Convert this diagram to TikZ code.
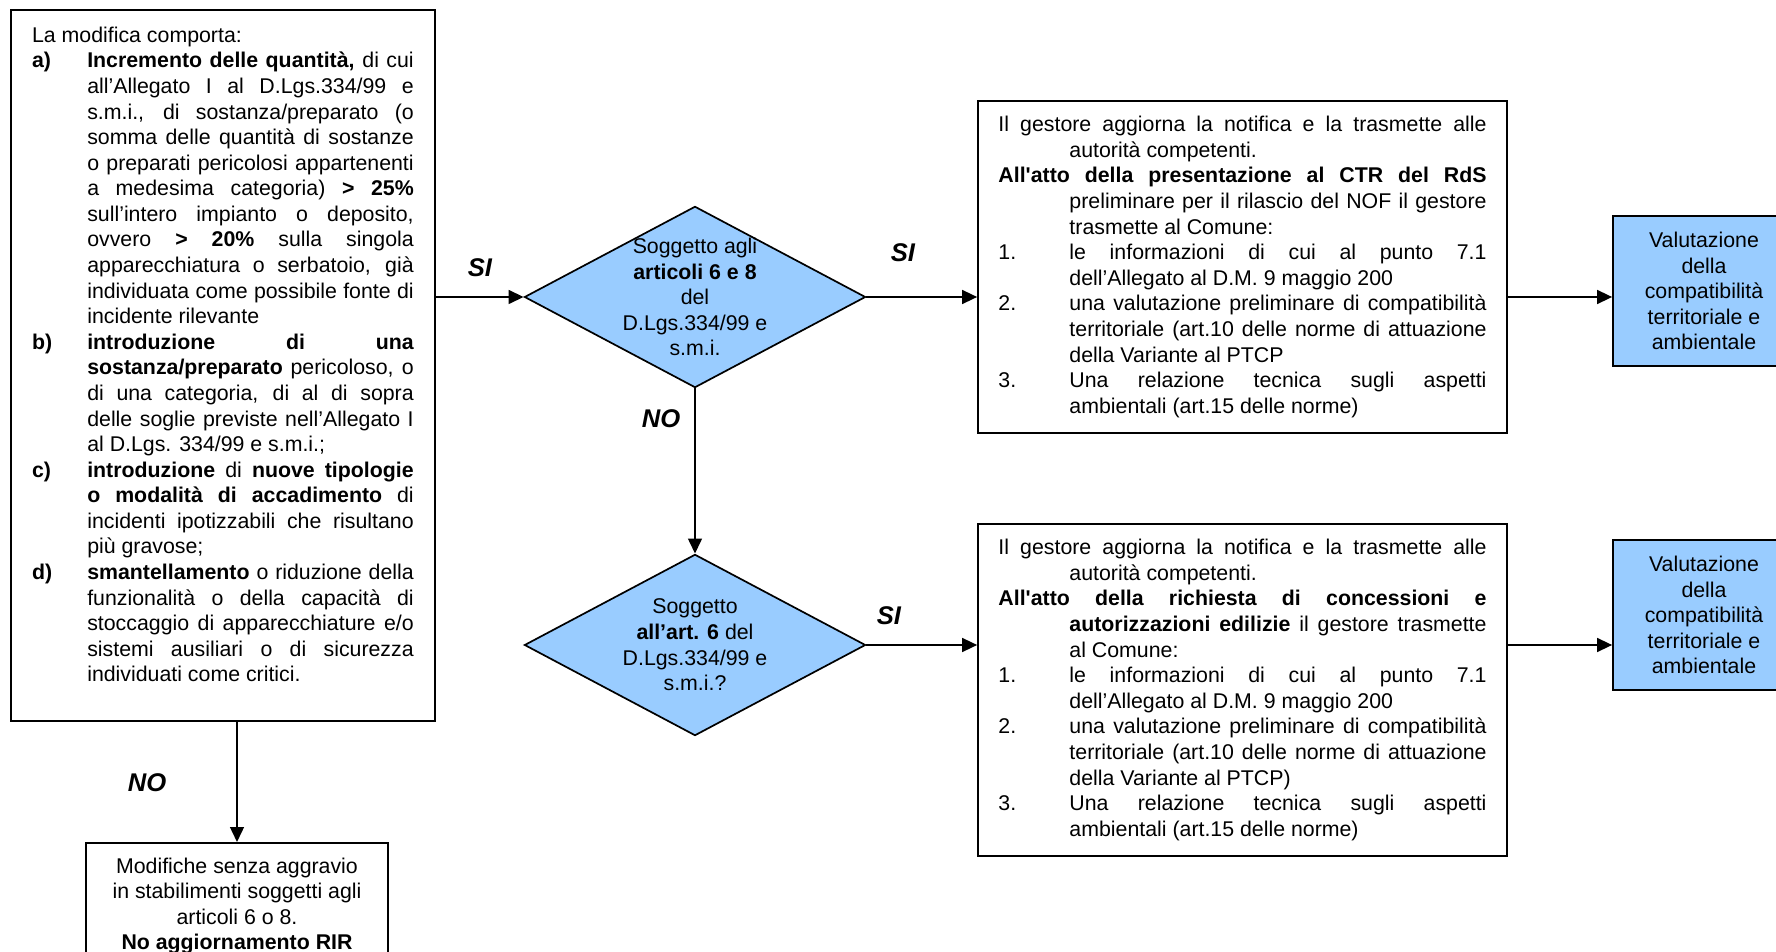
\documentclass[tikz,border=0pt]{standalone}
\usepackage{fontspec}
\setmainfont{Liberation Sans}
\usetikzlibrary{arrows.meta, shapes.geometric}

\definecolor{azzurro}{RGB}{153,204,255}

\hyphenpenalty=10000
\exhyphenpenalty=10000
\hbadness=10000

\newcommand{\capoverso}[2]{\hangindent=#1\hangafter=1\noindent #2\par}
\newcommand{\punto}[3]{\capoverso{#1}{\makebox[#1][l]{#2}#3}}

\begin{document}
\begin{tikzpicture}[x=0.469pt, y=-0.469pt, line width=0.8pt,
    every node/.style={font=\fontsize{10}{12}\selectfont},
    scatola/.style={draw, rectangle, inner sep=0pt},
    testo/.style={scatola, text width=228.9pt, inner xsep=9.6pt, minimum height=155.7pt, align=justify},
    rombo/.style={draw, diamond, fill=azzurro, inner sep=0pt, minimum width=160pt, minimum height=85pt},
    esito/.style={draw, fill=azzurro, align=center, inner sep=0pt, minimum width=85.4pt, minimum height=70.4pt},
    etichetta/.style={font=\fontsize{12}{14}\selectfont\bfseries\itshape},
    freccia/.style={-{Triangle[length=7pt,width=6.5pt]}}]

\useasboundingbox (0,0) rectangle (1776,952);
\clip (0,0) rectangle (1776,952);

\node[scatola, anchor=north west, inner xsep=9.95pt, inner ysep=6.8pt] (sx) at (10,9)
  {\parbox[t][319.9pt][t]{179pt}{\strut La modifica comporta:\par
  \punto{25.9pt}{\textbf{a)}}{\textbf{Incremento delle quantità,} di cui\linebreak
    all’Allegato I al D.Lgs.334/99 e\linebreak
    s.m.i., di sostanza/preparato (o\linebreak
    somma delle quantità di sostanze\linebreak
    o preparati pericolosi appartenenti\linebreak
    a medesima categoria) \textbf{> 25\%}\linebreak
    sull’intero impianto o deposito,\linebreak
    ovvero \textbf{> 20\%} sulla singola\linebreak
    apparecchiatura o serbatoio, già\linebreak
    individuata come possibile fonte di\linebreak
    incidente rilevante}
  \punto{25.9pt}{\textbf{b)}}{\textbf{introduzione di una\linebreak
    sostanza/preparato} pericoloso, o\linebreak
    di una categoria, di al di sopra\linebreak
    delle soglie previste nell’Allegato I\linebreak
    al D.Lgs. 334/99 e s.m.i.;}
  \punto{25.9pt}{\textbf{c)}}{\textbf{introduzione} di \textbf{nuove tipologie\linebreak
    o modalità di accadimento} di\linebreak
    incidenti ipotizzabili che risultano\linebreak
    più gravose;}
  \punto{25.9pt}{\textbf{d)}}{\textbf{smantellamento} o riduzione della\linebreak
    funzionalità o della capacità di\linebreak
    stoccaggio di apparecchiature e/o\linebreak
    sistemi ausiliari o di sicurezza\linebreak
    individuati come critici.}}};

\node[rombo] (q1) at (695,297) {};
\node[align=center] (q1t) at (q1) {Soggetto agli\\ \textbf{articoli 6 e 8}\\ del\\ D.Lgs.334/99 e\\ s.m.i.};

\node[rombo] (q2) at (695,645) {};
\node[align=center] (q2t) at (q2) {Soggetto\\ \textbf{all’art. 6} del\\ D.Lgs.334/99 e\\ s.m.i.?};

\node[testo] (b1) at (1242.5,267) {%
  \capoverso{33.3pt}{Il gestore aggiorna la notifica e la trasmette alle\linebreak
    autorità competenti.}
  \capoverso{33.3pt}{\textbf{All\textquotesingle atto della presentazione al CTR del RdS}\linebreak
    preliminare per il rilascio del NOF il gestore\linebreak
    trasmette al Comune:}
  \punto{33.3pt}{1.}{le informazioni di cui al punto 7.1\linebreak
    dell’Allegato al D.M. 9 maggio 200}
  \punto{33.3pt}{2.}{una valutazione preliminare di compatibilità\linebreak
    territoriale (art.10 delle norme di attuazione\linebreak
    della Variante al PTCP}
  \punto{33.3pt}{3.}{Una relazione tecnica sugli aspetti\linebreak
    ambientali (art.15 delle norme)}};

\node[testo] (b2) at (1242.5,690) {%
  \capoverso{33.3pt}{Il gestore aggiorna la notifica e la trasmette alle\linebreak
    autorità competenti.}
  \capoverso{33.3pt}{\textbf{All\textquotesingle atto della richiesta di concessioni e\linebreak
    autorizzazioni edilizie} il gestore trasmette\linebreak
    al Comune:}
  \punto{33.3pt}{1.}{le informazioni di cui al punto 7.1\linebreak
    dell’Allegato al D.M. 9 maggio 200}
  \punto{33.3pt}{2.}{una valutazione preliminare di compatibilità\linebreak
    territoriale (art.10 delle norme di attuazione\linebreak
    della Variante al PTCP)}
  \punto{33.3pt}{3.}{Una relazione tecnica sugli aspetti\linebreak
    ambientali (art.15 delle norme)}};

\node[esito] (v1) at (1704,291) {Valutazione\\ della\\ compatibilità\\ territoriale e\\ ambientale};
\node[esito] (v2) at (1704,615) {Valutazione\\ della\\ compatibilità\\ territoriale e\\ ambientale};

\node[scatola, anchor=north, inner ysep=7pt, minimum width=141.6pt, align=center] (fin) at (237,842)
  {Modifiche senza aggravio\\ in stabilimenti soggetti agli\\ articoli 6 o 8.\\ \textbf{No aggiornamento RIR}};

\node[etichetta] (si1) at (480,268) {SI};
\node[etichetta] (si2) at (903,253) {SI};
\node[etichetta] (no1) at (661,419) {NO};
\node[etichetta] (si3) at (889,616) {SI};
\node[etichetta] (no2) at (147,783) {NO};

\draw[freccia] (q1.west -| sx.east) -- (q1.west);
\draw[freccia] (q1.east) -- (q1.east -| b1.west);
\draw[freccia] (b1.east |- q1.east) -- (v1.west |- q1.east);
\draw[freccia] (q1.south) -- (q2.north);
\draw[freccia] (q2.east) -- (q2.east -| b2.west);
\draw[freccia] (b2.east |- q2.east) -- (v2.west |- q2.east);
\draw[freccia] (sx.south -| fin.north) -- (fin.north);

\end{tikzpicture}
\end{document}
